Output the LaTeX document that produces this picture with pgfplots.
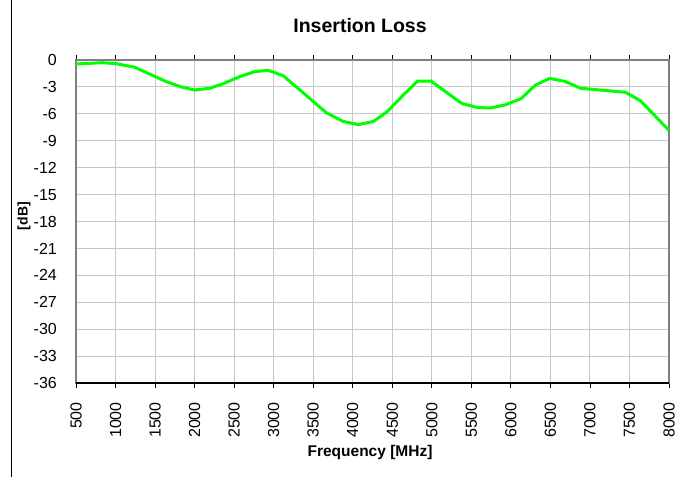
\documentclass[border=0pt]{standalone}
\usepackage{fontspec}
\setmainfont{Liberation Sans}
\usepackage{pgfplots}
\pgfplotsset{compat=1.18}
\definecolor{linegreen}{HTML}{00FF00}
\begin{document}
\begin{tikzpicture}
\begin{axis}[
  scale only axis,
  width=593bp, height=323bp,
  at={(0,0)}, anchor=south west,
  xmin=500, xmax=8000, ymin=-36, ymax=0,
  xtick={500,1000,...,8000},
  ytick={-36,-33,...,0},
  scaled x ticks=false,
  /pgf/number format/assume math mode=true,
  /pgf/number format/set thousands separator={},
  grid=major,
  major grid style={draw=black!22, line width=1bp},
  axis line style={draw=black!50, line width=1.3bp},
  tick align=outside,
  xtick style={draw=black, line width=0.8bp},
  ytick style={draw=none},
  major tick length=5bp,
  xticklabel style={rotate=90, anchor=east, inner sep=0pt, font=\fontsize{16bp}{18bp}\selectfont},
  yticklabel style={anchor=east, inner sep=0pt, font=\fontsize{16bp}{18bp}\selectfont},
  xticklabel shift=14bp,
  yticklabel shift=14bp,
  title={Insertion Loss},
  every axis title/.style={at={(axis description cs:0.479,1.0858)}, anchor=base, inner sep=0pt, font=\bfseries\fontsize{19.5bp}{22bp}\selectfont},
  xlabel={Frequency [MHz]},
  xlabel style={at={(axis description cs:0.4958,-0.228)}, anchor=base, inner sep=0pt, font=\bfseries\fontsize{15.5bp}{18bp}\selectfont},
  ylabel={[dB]},
  ylabel style={at={(axis description cs:-0.0877,0.517)}, anchor=center, rotate=0, inner sep=0pt, font=\bfseries\fontsize{14bp}{16bp}\selectfont},
]
\addplot[color=linegreen, line width=3bp, line join=round] coordinates {
(500,-0.45) (830,-0.3) (1000,-0.4) (1240,-0.8) (1640,-2.4) (1830,-3.0)
(2000,-3.35) (2190,-3.15) (2360,-2.65) (2570,-1.85) (2760,-1.3) (2930,-1.15)
(3120,-1.75) (3670,-5.9) (3880,-6.85) (4070,-7.2) (4260,-6.85) (4430,-5.8)
(4640,-3.9) (4820,-2.35) (4990,-2.35) (5380,-4.85) (5580,-5.3) (5740,-5.35)
(5930,-5.0) (6130,-4.3) (6310,-2.8) (6490,-2.05) (6690,-2.4) (6880,-3.15)
(7450,-3.6) (7640,-4.55) (8000,-7.85)
};
\draw[black, line width=1.2bp] (rel axis cs:0,0) -- (rel axis cs:1,0);
\end{axis}
\draw[black, line width=1bp] (-64bp,383bp) -- (-64bp,-94bp);
\pgfresetboundingbox
\useasboundingbox (-76bp,-94bp) rectangle (615bp,383bp);
\end{tikzpicture}
\end{document}
